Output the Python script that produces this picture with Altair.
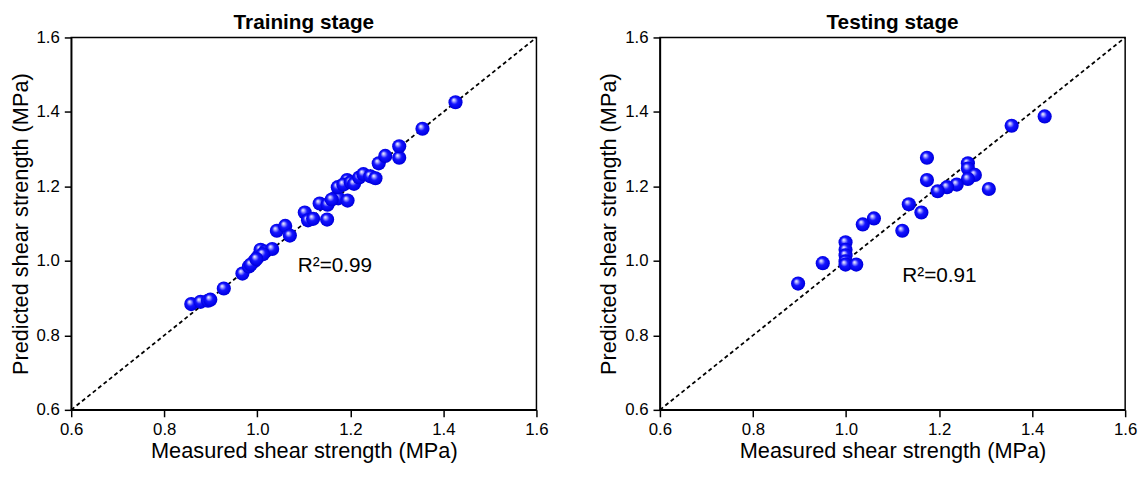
import altair as alt
import pandas as pd

# ---- data ----
train_measured = [0.858, 0.878, 0.894, 0.899, 0.928, 0.968, 0.982, 0.994, 0.986, 1.002,
                  1.007, 1.017, 1.032, 1.012, 0.998, 1.042, 1.060, 1.070, 1.102, 1.109,
                  1.120, 1.134, 1.151, 1.150, 1.169, 1.174, 1.160, 1.194, 1.173, 1.193,
                  1.185, 1.201, 1.208, 1.219, 1.228, 1.243, 1.254, 1.261, 1.275, 1.305,
                  1.305, 1.355, 1.426]
train_predicted = [0.884, 0.890, 0.893, 0.896, 0.926, 0.966, 0.985, 1.000, 0.990, 1.012,
                   1.030, 1.025, 1.032, 1.018, 1.005, 1.081, 1.094, 1.068, 1.130, 1.109,
                   1.113, 1.154, 1.151, 1.111, 1.171, 1.168, 1.165, 1.162, 1.198, 1.217,
                   1.205, 1.211, 1.207, 1.224, 1.233, 1.227, 1.222, 1.262, 1.282, 1.277,
                   1.308, 1.355, 1.426]

test_measured = [1.356, 1.427, 1.174, 1.262, 1.262, 1.277, 1.262, 1.238, 1.217, 1.197,
                 1.174, 1.307, 1.135, 1.162, 1.121, 1.060, 1.036, 0.999, 0.999, 0.999,
                 0.999, 0.999, 1.022, 0.950, 0.897]
test_predicted = [1.363, 1.388, 1.277, 1.262, 1.248, 1.231, 1.220, 1.205, 1.198, 1.187,
                  1.217, 1.193, 1.152, 1.130, 1.081, 1.114, 1.098, 1.050, 1.030, 1.015,
                  0.999, 0.990, 0.990, 0.994, 0.939]

diag_ends = [0.6, 1.6]
axis_ticks = [0.6, 0.8, 1.0, 1.2, 1.4, 1.6]
panel_titles = ["Training stage", "Testing stage"]
r2_labels = ["R\u00b2=0.99", "R\u00b2=0.91"]
r2_x = [1.087, 1.121]
r2_y = [0.985, 0.958]

FONT = "Liberation Sans"

sphere = alt.RadialGradient(
    gradient="radial", x1=0.36, y1=0.32, r1=0.0, x2=0.5, y2=0.5, r2=0.55,
    stops=[
        alt.GradientStop(offset=0.0, color="#ffffff"),
        alt.GradientStop(offset=0.16, color="#b4b4ff"),
        alt.GradientStop(offset=0.45, color="#1414ff"),
        alt.GradientStop(offset=0.85, color="#0000e6"),
        alt.GradientStop(offset=1.0, color="#0000b4"),
    ],
)


def panel(meas, pred, title, label, lx, ly):
    xs = alt.Scale(domain=[0.6, 1.6], nice=False, zero=False)
    ys = alt.Scale(domain=[0.6, 1.6], nice=False, zero=False)
    x_axis = alt.Axis(values=axis_ticks, format=".1f", title="Measured shear strength (MPa)",
                      titlePadding=3, labelFlush=False)
    y_axis = alt.Axis(values=axis_ticks, format=".1f", title="Predicted shear strength (MPa)",
                      titlePadding=4, labelFlush=False)
    pts = pd.DataFrame({"m": meas, "p": pred})
    diag = pd.DataFrame({"m": diag_ends, "p": diag_ends})
    lab = pd.DataFrame({"m": [lx], "p": [ly], "t": [label]})

    line = alt.Chart(diag).mark_line(color="black", strokeDash=[4, 3], strokeWidth=1.8).encode(
        x=alt.X("m:Q", scale=xs, axis=x_axis),
        y=alt.Y("p:Q", scale=ys, axis=y_axis),
    )
    dots = alt.Chart(pts).mark_circle(size=205, opacity=1, fill=sphere, strokeWidth=0).encode(
        x=alt.X("m:Q", scale=xs),
        y=alt.Y("p:Q", scale=ys),
    )
    txt = alt.Chart(lab).mark_text(align="left", baseline="middle", fontSize=21,
                                   font=FONT, color="black").encode(
        x=alt.X("m:Q", scale=xs),
        y=alt.Y("p:Q", scale=ys),
        text="t:N",
    )
    return alt.layer(line, dots, txt).properties(
        width=471, height=377,
        title=alt.TitleParams(text=title, fontSize=21, fontWeight="bold", font=FONT,
                              color="black", offset=-4.1, anchor="middle", frame="group"),
    )


left = panel(train_measured, train_predicted, panel_titles[0], r2_labels[0], r2_x[0], r2_y[0])
right = panel(test_measured, test_predicted, panel_titles[1], r2_labels[1], r2_x[1], r2_y[1])

chart = alt.hconcat(left, right, spacing=48).properties(
    padding={"left": 0, "top": 0, "right": 0, "bottom": 0}
).configure_view(
    stroke="black", strokeWidth=1.5
).configure_axis(
    grid=False, domainColor="black", domainWidth=1.5, tickColor="black", tickWidth=1.5,
    tickSize=7, labelFontSize=17, labelFont=FONT, labelColor="black", labelPadding=5,
    titleFontSize=22, titleFont=FONT, titleFontWeight="normal", titleColor="black",
)

chart.save("out.html", embed_options={"renderer": "svg", "actions": False})
